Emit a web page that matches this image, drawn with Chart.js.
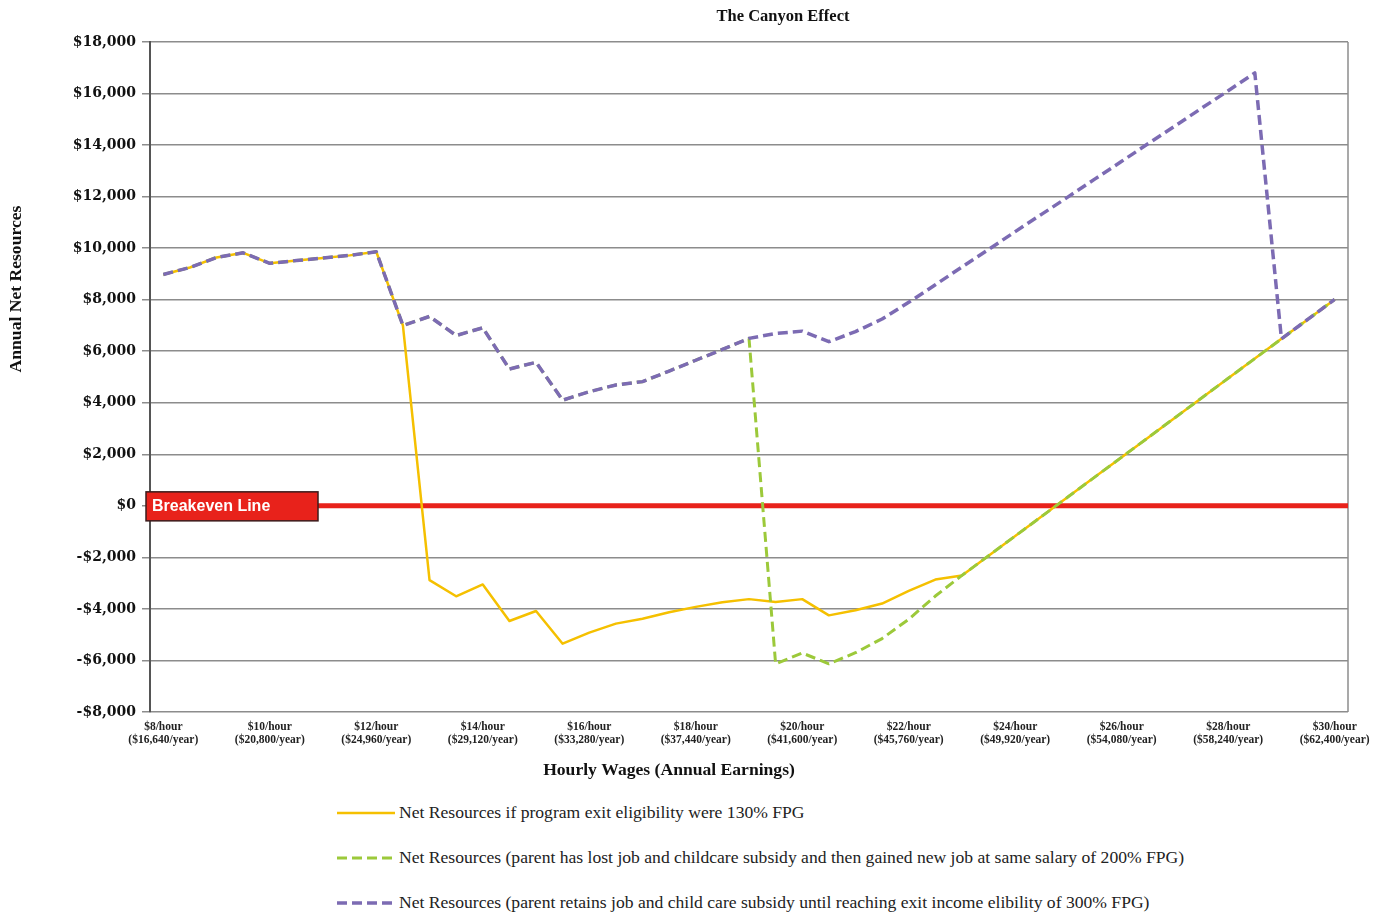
<!DOCTYPE html>
<html>
<head>
<meta charset="utf-8">
<title>The Canyon Effect</title>
<script src="https://cdn.jsdelivr.net/npm/chart.js@4.4.1/dist/chart.umd.min.js"></script>
<style>
  body { margin: 0; background: #fff; }
  #wrap { position: relative; width: 1383px; height: 917px; }
  #chartBox { position: absolute; left: 0; top: 0; width: 1383px; height: 790px; }
  #legend {
    position: absolute; left: 337px; top: 790px;
    font-family: "Liberation Serif", serif; font-size: 17.6px; color: #222;
  }
  #legend .item { display: flex; align-items: center; height: 45px; white-space: nowrap; }
  #legend svg { margin-right: 4px; }
</style>
</head>
<body>
<div id="wrap">
  <div id="chartBox"><canvas id="canyonChart" width="1383" height="790"></canvas></div>
  <div id="legend"></div>
</div>
<script>
// hourly wage categories, $0.50 steps
const wages = [
  "8", "8.5", "9", "9.5", "10", "10.5", "11", "11.5", "12", "12.5",
  "13", "13.5", "14", "14.5", "15", "15.5", "16", "16.5", "17", "17.5",
  "18", "18.5", "19", "19.5", "20", "20.5", "21", "21.5", "22", "22.5",
  "23", "23.5", "24", "24.5", "25", "25.5", "26", "26.5", "27", "27.5",
  "28", "28.5", "29", "29.5", "30"
];

// axis labels shown every $2
const tickLabels = [
  ["$8/hour", "($16,640/year)"],
  ["$10/hour", "($20,800/year)"],
  ["$12/hour", "($24,960/year)"],
  ["$14/hour", "($29,120/year)"],
  ["$16/hour", "($33,280/year)"],
  ["$18/hour", "($37,440/year)"],
  ["$20/hour", "($41,600/year)"],
  ["$22/hour", "($45,760/year)"],
  ["$24/hour", "($49,920/year)"],
  ["$26/hour", "($54,080/year)"],
  ["$28/hour", "($58,240/year)"],
  ["$30/hour", "($62,400/year)"]
];

const exit130 = [
  8980, 9250, 9640, 9820, 9410, 9520, 9620, 9720, 9860, 7000,
  -2880, -3510, -3050, -4470, -4080, -5350, -4920, -4570, -4380, -4130,
  -3920, -3740, -3620, -3730, -3620, -4250, -4050, -3790, -3300, -2860,
  -2700, -1935, -1170, -405, 360, 1125, 1890, 2655, 3420, 4185,
  4950, 5715, 6480, 7245, 8010
];

const lostJob200 = [
  8980, 9250, 9640, 9820, 9410, 9520, 9620, 9720, 9860, 7000,
  7350, 6610, 6910, 5310, 5570, 4100, 4430, 4690, 4820, 5230,
  5650, 6070, 6500, -6130, -5710, -6130, -5700, -5150, -4400, -3500,
  -2700, -1935, -1170, -405, 360, 1125, 1890, 2655, 3420, 4185,
  4950, 5715, 6480, 7245, 8010
];

const retain300 = [
  8980, 9250, 9640, 9820, 9410, 9520, 9620, 9720, 9860, 7000,
  7350, 6610, 6910, 5310, 5570, 4100, 4430, 4690, 4820, 5230,
  5650, 6070, 6500, 6690, 6780, 6370, 6760, 7250, 7900, 8580,
  9270, 9950, 10640, 11320, 12000, 12690, 13370, 14060, 14740, 15430,
  16110, 16800, 6480, 7245, 8010
];

const seriesNames = [
  "Net Resources if program exit eligibility were 130% FPG",
  "Net Resources (parent has lost job and childcare subsidy and then gained new job at same salary of 200% FPG)",
  "Net Resources (parent retains job and child care subsidy until reaching exit income elibility of 300% FPG)"
];

const breakeven = 0;
const yMin = -8000, yMax = 18000, yStep = 2000;

function money(v) {
  return (v < 0 ? "-$" : "$") + Math.abs(v).toLocaleString("en-US");
}

// frame, breakeven line, box label and titles
const decor = {
  id: "decor",
  beforeDatasetsDraw(chart) {
    const { ctx, chartArea: a, scales } = chart;
    ctx.save();
    ctx.strokeStyle = "#8c8c8c";
    ctx.lineWidth = 1.5;
    ctx.beginPath();
    ctx.moveTo(a.right, a.top);
    ctx.lineTo(a.right, a.bottom);
    ctx.stroke();

    const y0 = scales.y.getPixelForValue(breakeven);
    ctx.strokeStyle = "#e8221b";
    ctx.lineWidth = 5;
    ctx.beginPath();
    ctx.moveTo(a.left, y0);
    ctx.lineTo(a.right, y0);
    ctx.stroke();
    ctx.restore();
  },
  afterDatasetsDraw(chart) {
    const { ctx, chartArea: a, scales } = chart;
    const y0 = scales.y.getPixelForValue(breakeven);
    ctx.save();
    ctx.fillStyle = "#e8221b";
    ctx.fillRect(a.left - 4, y0 - 14, 172, 29);
    ctx.strokeStyle = "#3b1c1c";
    ctx.lineWidth = 1.5;
    ctx.strokeRect(a.left - 4, y0 - 14, 172, 29);
    ctx.fillStyle = "#fff";
    ctx.font = "bold 16px 'Liberation Sans', Arial, sans-serif";
    ctx.textBaseline = "middle";
    ctx.fillText("Breakeven Line", a.left + 2, y0 + 1);

    ctx.fillStyle = "#111";
    ctx.textAlign = "center";
    ctx.font = "bold 16.5px 'Liberation Serif', serif";
    ctx.fillText("The Canyon Effect", 783, 17);
    ctx.font = "bold 17.6px 'Liberation Serif', serif";
    ctx.fillText("Hourly Wages (Annual Earnings)", 669, 770);
    ctx.translate(16, 289);
    ctx.rotate(-Math.PI / 2);
    ctx.font = "bold 17.6px 'Liberation Serif', serif";
    ctx.fillText("Annual Net Resources", 0, 0);
    ctx.restore();
  }
};

// order: purple on top, then green, then yellow underneath
const chart = new Chart(document.getElementById("canyonChart"), {
  type: "line",
  data: {
    labels: wages,
    datasets: [
      {
        label: seriesNames[0],
        data: exit130,
        borderColor: "#f5c000",
        borderWidth: 2.5,
        order: 2
      },
      {
        label: seriesNames[1],
        data: lostJob200,
        borderColor: "#9cc93a",
        borderWidth: 3,
        borderDash: [10, 5],
        order: 1
      },
      {
        label: seriesNames[2],
        data: retain300,
        borderColor: "#7c6bb3",
        borderWidth: 3.5,
        borderDash: [10, 5],
        order: 0
      }
    ]
  },
  options: {
    responsive: false,
    animation: false,
    devicePixelRatio: 1,
    layout: { padding: { top: 42, right: 35, left: 0, bottom: 0 } },
    elements: {
      point: { radius: 0 },
      line: { tension: 0, borderJoinStyle: "round", fill: false }
    },
    plugins: {
      legend: { display: false },
      tooltip: { enabled: false }
    },
    scales: {
      x: {
        offset: true,
        grid: { display: false },
        border: { display: false },
        ticks: {
          autoSkip: false,
          maxRotation: 0,
          minRotation: 0,
          padding: 0,
          color: "#222",
          font: { family: "'Liberation Serif', serif", size: 11.5, weight: "bold", lineHeight: 1.15 },
          callback: (v, i) => (i % 4 === 0 ? tickLabels[i / 4] : null)
        },
        afterFit: s => { s.height = 78; }
      },
      y: {
        min: yMin,
        max: yMax,
        grid: { color: "#8c8c8c", lineWidth: 1.5, tickLength: 8 },
        border: { display: true, color: "#555", width: 2 },
        ticks: {
          stepSize: yStep,
          padding: 6,
          color: "#111",
          font: { family: "'DejaVu Serif', serif", size: 14, weight: "bold" },
          callback: v => money(v)
        },
        afterFit: s => { s.width = 150; }
      }
    }
  },
  plugins: [decor]
});

// legend list under the chart
const legend = document.getElementById("legend");
chart.data.datasets.forEach(ds => {
  const row = document.createElement("div");
  row.className = "item";
  const dash = ds.borderDash ? ds.borderDash.join(",") : "none";
  row.innerHTML = `
    <svg width="58" height="8"><line x1="0" y1="4" x2="58" y2="4"
      stroke="${ds.borderColor}" stroke-width="${ds.borderWidth}" stroke-dasharray="${dash}"/></svg>
    <span>${ds.label}</span>`;
  legend.appendChild(row);
});
</script>
</body>
</html>
